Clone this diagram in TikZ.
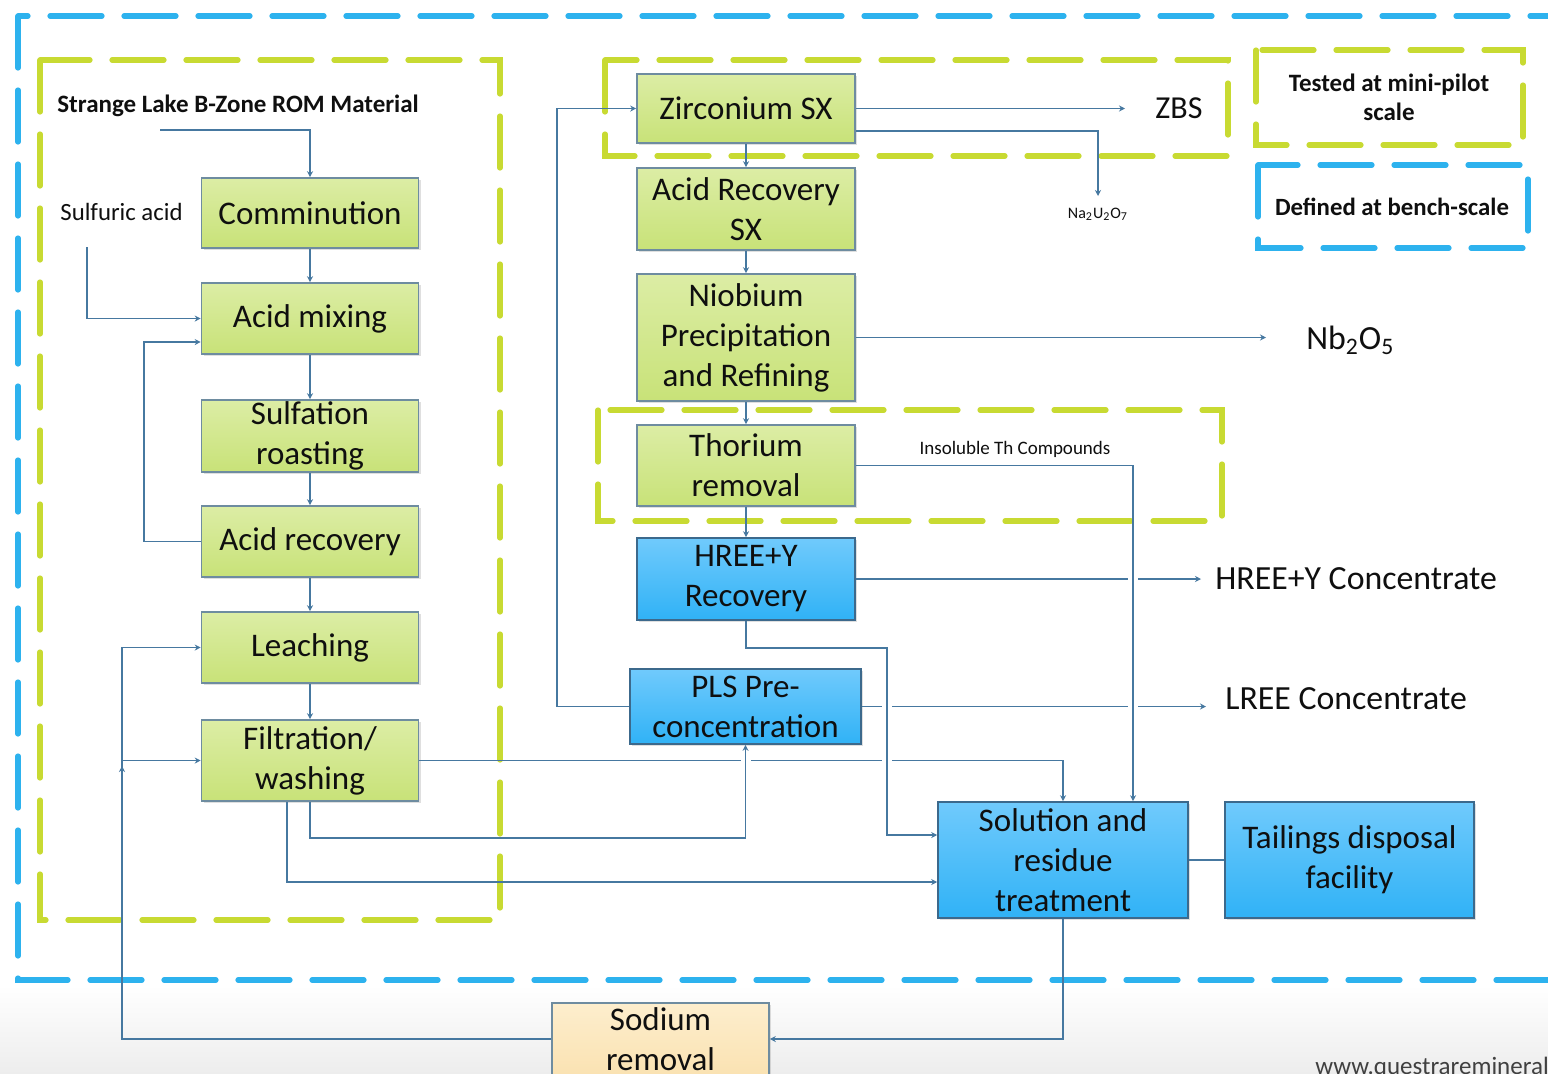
\documentclass[tikz,border=0pt]{standalone}
\usepackage{fontspec}
\setmainfont{Carlito}
\usetikzlibrary{arrows.meta,shadows,calc}
\definecolor{frameblue}{RGB}{45,178,238}
\definecolor{framegreen}{RGB}{200,218,50}
\definecolor{lineblue}{RGB}{70,120,160}
\definecolor{gtop}{RGB}{220,237,165}
\definecolor{gbot}{RGB}{200,226,120}
\definecolor{btop}{RGB}{112,202,252}
\definecolor{bbot}{RGB}{48,178,246}
\definecolor{otop}{RGB}{253,238,205}
\definecolor{obot}{RGB}{250,226,178}
\definecolor{gborder}{RGB}{110,140,160}
\definecolor{bborder}{RGB}{60,105,140}
\definecolor{txt}{RGB}{15,15,15}
\tikzset{
  boxbase/.style={rectangle, inner sep=0pt, align=center, text=txt,
    font=\fontsize{16.5}{20}\selectfont, line width=0.8pt,
    drop shadow={opacity=0.25, shadow xshift=1.2pt, shadow yshift=-1.2pt}},
  gbox/.style={boxbase, draw=gborder, top color=gtop, bottom color=gbot},
  bbox/.style={boxbase, draw=bborder, top color=btop, bottom color=bbot},
  obox/.style={boxbase, draw=gborder, top color=otop, bottom color=obot},
  arr/.style={draw=lineblue, line width=0.7pt, -{Stealth[length=3pt,width=3pt]}},
  ln/.style={draw=lineblue, line width=0.7pt},
  gframe/.style={draw=framegreen, line width=2.6pt, dash pattern=on 26pt off 11pt, line cap=round},
  bframe/.style={draw=frameblue, line width=2.6pt, dash pattern=on 26pt off 11pt, line cap=round},
  outlbl/.style={text=txt, font=\fontsize{16.9}{19}\selectfont, inner sep=0pt},
}
\begin{document}
\begin{tikzpicture}[x=0.5pt,y=-0.5pt]
\useasboundingbox (0,0) rectangle (1548,1073);
\clip (0,0) rectangle (1548,1073);
% background
\fill[white] (0,0) rectangle (1548,1073);
\shade[top color=white, bottom color=black!7] (0,985) rectangle (1548,1073);
% dashed frames
\draw[bframe] (18,16) rectangle (1575,980);
\draw[gframe] (40,60) rectangle (500,920);
\draw[gframe] (605,60) rectangle (1228,156);
\draw[gframe] (598,410) rectangle (1222,521);
\draw[gframe] (1256,50) rectangle (1523,145);
\draw[bframe] (1258,165) rectangle (1528,248);

% boxes
\node[gbox, minimum width=108.5pt, minimum height=35pt] (comm) at (310,213) {Comminution};
\node[gbox, minimum width=108.5pt, minimum height=35.5pt] (amix) at (310,318.5) {Acid mixing};
\node[gbox, minimum width=108.5pt, minimum height=36pt] (sulf) at (310,436) {Sulfation\\roasting};
\node[gbox, minimum width=108.5pt, minimum height=35.5pt] (arec) at (310,541.5) {Acid recovery};
\node[gbox, minimum width=108.5pt, minimum height=35.5pt] (leach) at (310,647.5) {Leaching};
\node[gbox, minimum width=108.5pt, minimum height=40.5pt] (filt) at (310,760.5) {Filtration/\\washing};
\node[gbox, minimum width=109pt, minimum height=34.5pt] (zr) at (746,108.5) {Zirconium SX};
\node[gbox, minimum width=109pt, minimum height=41pt] (arsx) at (746,209) {Acid Recovery\\SX};
\node[gbox, minimum width=109pt, minimum height=63.5pt] (nb) at (746,337.5) {Niobium\\Precipitation\\and Refining};
\node[gbox, minimum width=109pt, minimum height=40.5pt] (th) at (746,465.5) {Thorium\\removal};
\node[bbox, minimum width=109pt, minimum height=41pt] (hree) at (746,579) {HREE+Y\\Recovery};
\node[bbox, minimum width=115.5pt, minimum height=37.5pt] (pls) at (745.5,706.5) {PLS Pre-\\concentration};
\node[bbox, minimum width=125pt, minimum height=58pt] (sol) at (1063,860) {Solution and\\residue\\treatment};
\node[bbox, minimum width=124.5pt, minimum height=58pt] (tail) at (1349.5,860) {Tailings disposal\\facility};
\node[obox, minimum width=108.5pt, minimum height=36pt] (sod) at (660.5,1039) {Sodium\\removal};

% text labels
\node[anchor=west, text=txt, inner sep=0pt, font=\bfseries\fontsize{12.5}{15}\selectfont] (sl) at (57,106) {Strange Lake B-Zone ROM Material};
\node[anchor=west, text=txt, inner sep=0pt, font=\fontsize{12.4}{14}\selectfont] (sa) at (60,212) {Sulfuric acid};
\node[anchor=west, outlbl, font=\fontsize{16}{18}\selectfont] (zbs) at (1155,108) {ZBS};
\node[text=txt, inner sep=0pt, font=\fontsize{8}{10}\selectfont] (na) at (1098,214) {Na\textsubscript{2}U\textsubscript{2}O\textsubscript{7}};
\node[anchor=west, outlbl] (nbo) at (1306,340) {Nb\textsubscript{2}O\textsubscript{5}};
\node[text=txt, inner sep=0pt, font=\fontsize{9.5}{11}\selectfont] (insol) at (1015,449) {Insoluble Th Compounds};
\node[anchor=west, outlbl] (hreec) at (1215,579) {HREE+Y Concentrate};
\node[anchor=west, outlbl] (lreec) at (1225,699) {LREE Concentrate};
\node[text=txt, inner sep=0pt, align=center, font=\bfseries\fontsize{12.5}{14.5}\selectfont] (tested) at (1389,97) {Tested at mini-pilot\\scale};
\node[text=txt, inner sep=0pt, font=\bfseries\fontsize{12.4}{14}\selectfont] (defined) at (1392,207) {Defined at bench-scale};
\node[anchor=west, inner sep=0pt, text=black!75, font=\fontsize{12.5}{15}\selectfont] (www) at (1315,1068) {www.questrareminerals.com};

% free ends
\coordinate (slend) at (160,130);
\coordinate (saend) at (87,247);
\coordinate (zbsend) at (1125,108.5);
\coordinate (naend) at (1098,196);
\coordinate (nboend) at (1266,337.5);
\coordinate (hreecend) at (1201,579);
\coordinate (lreecend) at (1206,706.5);

% connectors, left column
\draw[arr] (slend) -| (comm.north);
\draw[arr] (comm.south) -- (amix.north);
\draw[arr] (saend) |- (amix.west);
\draw[arr] (amix.south) -- (sulf.north);
\draw[arr] (sulf.south) -- (arec.north);
\draw[arr] (arec.west) -- (144,541.5) -- (144,342) -- (amix.west |- 0,342);
\draw[arr] (arec.south) -- (leach.north);
\draw[arr] (leach.south) -- (filt.north);
\draw[arr] (sod.west) -| (122,647.5) -- (leach.west);
\draw[arr] (122,760.5) -- (filt.west);
\draw[arr] (122,790) -- (122,766);
% horizontals crossing verticals
\draw[arr] (filt.east) -| (sol.north);
\draw[arr] (pls.east) -- (lreecend);
\draw[arr] (hree.east) -- (hreecend);
% white gaps at hops
\foreach \p in {(746,760.5),(887,760.5),(887,706.5),(1133,706.5),(1133,579)}
  \fill[white] \p ++(-5,-3) rectangle ++(10,6);
% verticals
\draw[arr] (filt.south) -- (310,838) -| (pls.south);
\draw[arr] ($(filt.south)+(-23,0)$) |- (sol.west |- 0,882);
\draw[arr] (pls.west) -- (557,706.5) |- (zr.west);
\draw[arr] (zr.east) -- (zbsend);
\draw[arr] (zr.east |- 0,131) -| (naend);
\draw[arr] (zr.south) -- (arsx.north);
\draw[arr] (arsx.south) -- (nb.north);
\draw[arr] (nb.east) -- (nboend);
\draw[arr] (nb.south) -- (th.north);
\draw[arr] (th.east) -| (sol.north -| 1133,0);
\draw[arr] (th.south) -- (hree.north);
\draw[arr] (hree.south) -- (746,648) -- (887,648) |- (sol.west |- 0,835);
\draw[ln] (sol.east) -- (tail.west);
\draw[arr] (sol.south) |- (sod.east);
\end{tikzpicture}
\end{document}
